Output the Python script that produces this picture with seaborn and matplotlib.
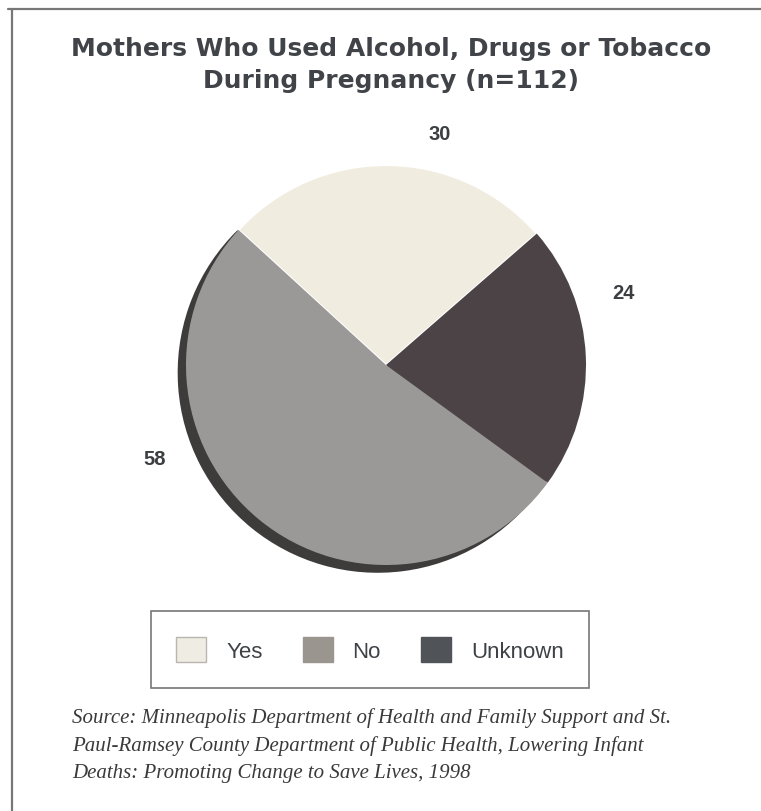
import matplotlib
matplotlib.use("Agg")
import matplotlib.pyplot as plt
from matplotlib.patches import Patch
from matplotlib.lines import Line2D
import numpy as np
import seaborn as sns

# ---- data ----
categories = ["Yes", "No", "Unknown"]
values = [30, 58, 24]
wedge_colors = ["#f1ece0", "#9b9997", "#4b4345"]
legend_colors = ["#efece3", "#9a968f", "#505458"]
title_lines = ["Mothers Who Used Alcohol, Drugs or Tobacco", "During Pregnancy (n=112)"]
source_lines = [
    "Source: Minneapolis Department of Health and Family Support and St.",
    "Paul-Ramsey County Department of Public Health, Lowering Infant",
    "Deaths: Promoting Change to Save Lives, 1998",
]
pie_order = [0, 2, 1]  # clockwise: Yes, Unknown, No
# label placement (angle in degrees, distance in radii) per category
label_places = {"Yes": (77, 1.19), "No": (202, 1.25), "Unknown": (17, 1.24)}

sns.set_theme(style="white")
plt.rcParams["font.family"] = ["DejaVu Sans"]

W, H = 761, 812
fig = plt.figure(figsize=(W / 100, H / 100), dpi=100)

cx, cy, r = 386, 366, 200
half = 1.1
ax = fig.add_axes([(cx - r * half) / W, 1 - (cy + r * half) / H, 2 * r * half / W, 2 * r * half / H])

vals = [values[i] for i in pie_order]
cols = [wedge_colors[i] for i in pie_order]
wedges, _ = ax.pie(
    vals, colors=cols, startangle=137.5, counterclock=False, radius=1,
    wedgeprops=dict(edgecolor="none", linewidth=0),
    shadow=dict(ox=-0.03, oy=-0.028, facecolor="#3e3b3b", edgecolor="#3e3b3b", alpha=1),
)
wedges[0].set_edgecolor("white")
wedges[0].set_linewidth(1.5)
ax.set_xlim(-half, half)
ax.set_ylim(-half, half)
ax.set_aspect("equal")
ax.axis("off")

for i in pie_order:
    name = categories[i]
    ang, dist = label_places[name]
    x = dist * np.cos(np.radians(ang))
    y = dist * np.sin(np.radians(ang))
    ax.text(x, y, str(values[i]), ha="center", va="center", fontsize=14.5,
            fontweight="bold", color="#3c3f42", family="Liberation Sans", clip_on=False)

# title
for k, line in enumerate(title_lines):
    fig.text(391 / W, 1 - (49 + 32 * k) / H, line, ha="center", va="center",
             fontsize=18, fontweight="bold", color="#404448")

# legend
handles = [Patch(facecolor=legend_colors[i], edgecolor="#b8b6b0" if i == 0 else legend_colors[i],
                 linewidth=1, label=categories[i]) for i in range(3)]
leg = fig.legend(handles=handles, loc="center", bbox_to_anchor=(370 / W, 1 - 650.5 / H),
                 ncol=3, frameon=True, fancybox=False,
                 handlelength=1.35, handleheight=1.35, handletextpad=0.9, columnspacing=1.8,
                 borderpad=1.15, borderaxespad=0,
                 prop={"family": "Liberation Sans", "size": 16})
leg.get_frame().set_edgecolor("#555555")
leg.get_frame().set_linewidth(1.2)
for t in leg.get_texts():
    t.set_color("#3e4246")

# source text
for k, line in enumerate(source_lines):
    fig.text(72 / W, 1 - (718 + 28 * k) / H, line, ha="left", va="center",
             fontsize=15, style="italic", color="#3a3a3a", family="Liberation Serif")

# frame lines
fig.add_artist(Line2D([8 / W, 1], [1 - 10 / H, 1 - 10 / H], transform=fig.transFigure,
                      color="#777777", linewidth=1.6))
fig.add_artist(Line2D([12 / W, 12 / W], [1 - 10 / H, 0], transform=fig.transFigure,
                      color="#777777", linewidth=1.6))

fig.savefig("out.png", dpi=100, facecolor="white")
